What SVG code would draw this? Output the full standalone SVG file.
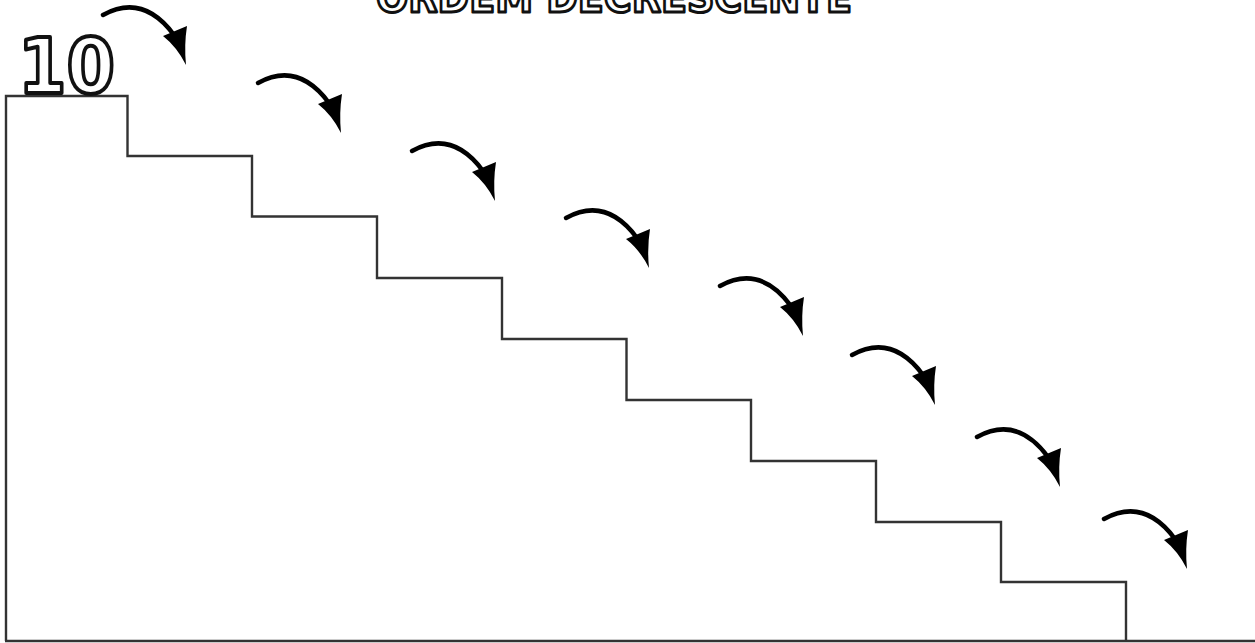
<svg xmlns="http://www.w3.org/2000/svg" width="1255" height="643" viewBox="0 0 1255 643">
<style>
.outline{font-family:"DejaVu Sans","Liberation Sans",sans-serif;font-weight:bold;fill:#fff;stroke:#111;stroke-linejoin:round}
.stair{fill:none;stroke:#333;stroke-width:2.4;stroke-linejoin:miter}
.shaft{fill:none;stroke:#000;stroke-width:4.5;stroke-linecap:round}
.head{fill:#000;stroke:none}
</style>
<defs>
<g id="arrow">
<path class="shaft" d="M0,0 Q40,-22 71,20"/>
<path class="head" d="M60,21 L84,11 Q81,30 83,50 Q74,32 60,21 Z"/>
</g>
</defs>
<rect width="1255" height="643" fill="#fff"/>
<g id="title">
<text class="outline" x="376" y="12" font-size="42" stroke-width="3" textLength="476" lengthAdjust="spacingAndGlyphs">ORDEM DECRESCENTE</text>
</g>
<g id="stairs">
<path class="stair" d="M6,641 L6,96 L127.5,96 L127.5,156 L252,156 L252,216.5 L377,216.5 L377,278 L502,278 L502,339 L626.5,339 L626.5,400 L751,400 L751,461 L876,461 L876,522 L1001,522 L1001,582 L1126,582 L1126,641"/>
<path class="stair" d="M5,641 L1255,641"/>
</g>
<g id="label-10">
<text class="outline" x="18" y="93" font-size="76" stroke-width="4" textLength="97" lengthAdjust="spacingAndGlyphs">10</text>
</g>
<g id="connectors">
<use href="#arrow" x="103" y="15"/>
<use href="#arrow" x="258" y="83"/>
<use href="#arrow" x="412" y="151"/>
<use href="#arrow" x="566" y="218"/>
<use href="#arrow" x="720" y="286"/>
<use href="#arrow" x="852" y="355"/>
<use href="#arrow" x="977" y="437"/>
<use href="#arrow" x="1104" y="519"/>
</g>
</svg>
